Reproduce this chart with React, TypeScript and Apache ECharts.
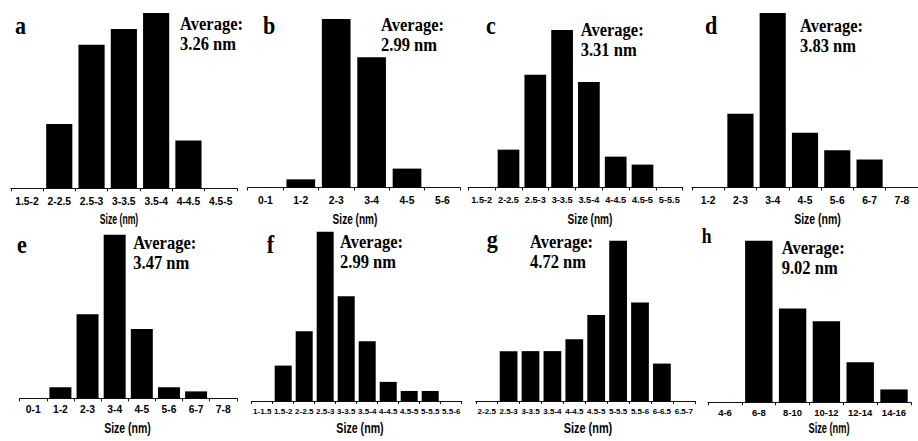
import React, { useEffect, useRef } from "react";
import * as echarts from "echarts";

// ---- data ----
const catA = ["1.5-2", "2-2.5", "2.5-3", "3-3.5", "3.5-4", "4-4.5", "4.5-5"];
const valA = [0, 10.9, 24.3, 27.0, 29.7, 8.1, 0];
const catB = ["0-1", "1-2", "2-3", "3-4", "4-5", "5-6"];
const valB = [0, 2.5, 51.7, 40.0, 5.8, 0];
const catC = ["1.5-2", "2-2.5", "2.5-3", "3-3.5", "3.5-4", "4-4.5", "4.5-5", "5-5.5"];
const valC = [0, 8.1, 24.1, 33.7, 22.6, 6.6, 4.9, 0];
const catD = ["1-2", "2-3", "3-4", "4-5", "5-6", "6-7", "7-8"];
const valD = [0, 20.0, 47.4, 14.9, 10.1, 7.6, 0];
const catE = ["0-1", "1-2", "2-3", "3-4", "4-5", "5-6", "6-7", "7-8"];
const valE = [0, 3.2, 24.3, 47.3, 20.0, 3.2, 2.0, 0];
const catF = ["1-1.5", "1.5-2", "2-2.5", "2.5-3", "3-3.5", "3.5-4", "4-4.5", "4.5-5", "5-5.5", "5.5-6"];
const valF = [0, 7.4, 14.6, 35.4, 21.9, 12.5, 4.0, 2.1, 2.1, 0];
const catG = ["2-2.5", "2.5-3", "3-3.5", "3.5-4", "4-4.5", "4.5-5", "5-5.5", "5.5-6", "6-6.5", "6.5-7"];
const valG = [0, 8.4, 8.4, 8.4, 10.4, 14.5, 27.0, 16.6, 6.3, 0];
const catH = ["4-6", "6-8", "8-10", "10-12", "12-14", "14-16"];
const valH = [0, 41.5, 24.1, 20.8, 10.3, 3.3];

const panelLetters = ["a", "b", "c", "d", "e", "f", "g", "h"];
const averages = ["3.26", "2.99", "3.31", "3.83", "3.47", "2.99", "4.72", "9.02"];
const xTitle = "Size (nm)";

const W = 918;
const H = 441;

// ---- layout (positions / styles only) ----
const panels = [
  { cats: catA, vals: valA, left: 10.8, width: 226.1, top: 13, axisY: 188.3, lblSize: 10.3, lblMargin: 8,
    title: [119, 219, 0.62], letter: [15, 25.5], avg: [180, 24] },
  { cats: catB, vals: valB, left: 247.7, width: 212.4, top: 19, axisY: 187.5, lblSize: 10.3, lblMargin: 8,
    title: [355, 219, 0.72], letter: [263, 25.5], avg: [381, 25] },
  { cats: catC, vals: valC, left: 468.3, width: 214.4, top: 30, axisY: 187.5, lblSize: 9.2, lblMargin: 8,
    title: [590, 219, 0.72], letter: [486, 25.5], avg: [580.7, 29.5] },
  { cats: catD, vals: valD, left: 692, width: 231.7, top: 13, axisY: 187.5, lblSize: 10.3, lblMargin: 8,
    title: [817.5, 219, 0.75], letter: [705, 25.5], avg: [800, 26] },
  { cats: catE, vals: valE, left: 19.7, width: 217.1, top: 234.7, axisY: 398.3, lblSize: 10.3, lblMargin: 6.5,
    title: [127.5, 428.5, 0.75], letter: [17, 244.5], avg: [133.3, 242.5] },
  { cats: catF, vals: valF, left: 251.7, width: 210, top: 231.7, axisY: 401, lblSize: 8, lblMargin: 6.5,
    title: [360, 428.5, 0.76], letter: [266.7, 244.5], avg: [340, 241.5] },
  { cats: catG, vals: valG, left: 475.75, width: 219, top: 240.7, axisY: 401, lblSize: 8, lblMargin: 6.5,
    title: [588, 428.5, 0.78], letter: [486.7, 239], avg: [530, 241.5] },
  { cats: catH, vals: valH, left: 708.1, width: 202.8, top: 240.7, axisY: 402.3, lblSize: 9.5, lblMargin: 5.5,
    title: [829, 428.5, 0.66], letter: [701.7, 235.5], avg: [781.7, 248] },
];

const SANS = "Arial, 'Liberation Sans', Helvetica, sans-serif";
const SERIF = "'Times New Roman', 'Liberation Serif', Times, serif";

export default function App() {
  const ref = useRef<HTMLDivElement>(null);

  useEffect(() => {
    if (!ref.current) return;
    const chart = echarts.init(ref.current, undefined, { renderer: "svg", width: W, height: H });

    const grid = panels.map((p) => ({
      left: p.left,
      width: p.width,
      top: p.top,
      height: p.axisY - p.top,
      containLabel: false,
    }));

    const xAxis = panels.map((p, i) => ({
      type: "category",
      gridIndex: i,
      data: p.cats,
      boundaryGap: true,
      axisLine: { show: true, lineStyle: { color: "#111", width: 1 } },
      axisTick: { show: true, length: 3, inside: false, interval: 0, lineStyle: { color: "#111", width: 1 } },
      axisLabel: {
        interval: 0,
        margin: p.lblMargin,
        color: "#000",
        fontWeight: "bold",
        fontSize: p.lblSize,
        fontFamily: SANS,
        hideOverlap: false,
      },
      splitLine: { show: false },
    }));

    const yAxis = panels.map((_, i) => ({
      type: "value",
      gridIndex: i,
      min: 0,
      max: "dataMax",
      show: false,
      splitLine: { show: false },
    }));

    const series = panels.map((p, i) => ({
      type: "bar",
      xAxisIndex: i,
      yAxisIndex: i,
      data: p.vals,
      barCategoryGap: "19%",
      itemStyle: { color: "#000" },
      silent: true,
    }));

    const graphic: any[] = [];
    panels.forEach((p, i) => {
      graphic.push({
        type: "text",
        x: p.letter[0],
        y: p.letter[1],
        scaleX: i === 7 ? 0.8 : 0.85,
        style: {
          text: panelLetters[i],
          font: `bold ${i === 7 ? 22 : 26}px ${SERIF}`,
          fill: "#000",
          verticalAlign: "middle",
          align: "left",
        },
      });
      graphic.push({
        type: "text",
        x: p.avg[0],
        y: p.avg[1] - 10,
        scaleX: 0.87,
        style: {
          text: "Average:\n" + averages[i] + " nm",
          font: `bold 19px ${SERIF}`,
          lineHeight: 20,
          fill: "#000",
          verticalAlign: "top",
          align: "left",
        },
      });
      graphic.push({
        type: "text",
        x: p.title[0],
        y: p.title[1],
        scaleX: p.title[2],
        style: {
          text: xTitle,
          font: `bold 14px ${SANS}`,
          fill: "#000",
          verticalAlign: "middle",
          align: "center",
        },
      });
    });

    chart.setOption({
      animation: false,
      backgroundColor: "#fff",
      grid,
      xAxis,
      yAxis,
      series,
      graphic,
    });

    return () => chart.dispose();
  }, []);

  return (
    <div
      ref={ref}
      style={{ position: "fixed", left: 0, top: 0, width: W, height: H, background: "#fff" }}
    />
  );
}
